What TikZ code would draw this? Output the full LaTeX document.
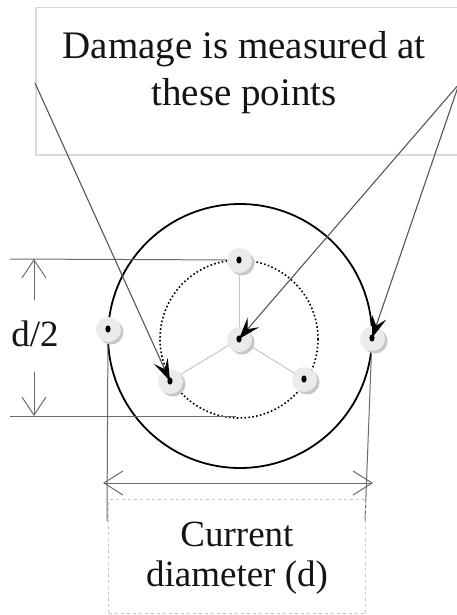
\documentclass[tikz,border=0pt]{standalone}
\usepackage{fontspec}
\setmainfont{Liberation Serif}
\usetikzlibrary{arrows.meta,calc}
\definecolor{dimgray}{gray}{0.42}
\definecolor{halo}{gray}{0.92}
\definecolor{haloshadow}{gray}{0.78}
\tikzset{
  dimline/.style={draw=dimgray, line width=1pt},
  dimtip/.style={-{Straight Barb[length=18pt,width=24pt]}},
  pointer/.style={draw=dimgray!80!black, line width=1.1pt, -{Stealth[length=22pt,width=15pt,inset=9pt,black]}},
  spoke/.style={draw=gray!45, line width=1pt},
  bigtext/.style={font=\fontsize{39}{47}\selectfont, align=center, inner sep=0pt, text=black!92},
  midtext/.style={font=\fontsize{37}{40}\selectfont, align=center, inner sep=0pt, text=black!92},
}
\begin{document}
\begin{tikzpicture}[x=1pt,y=-1pt]
\useasboundingbox (0,0) rectangle (457,615);
% top label box
\node[draw=gray!30, line width=1.5pt, inner sep=0pt, anchor=north west, minimum height=147pt, minimum width=435pt] (box) at (35,7) {};
\node[bigtext, anchor=north] (lab) at (244,31) {Damage is measured at\\these points};
% points
\coordinate (c) at (239,339);
\coordinate (pt) at (239,260);
\coordinate (pbl) at (170,381);
\coordinate (pbr) at (304,379);
\coordinate (pl) at (108,329);
\coordinate (pr) at (372,338);
\coordinate (srcL) at (35,83);
\coordinate (srcR) at (459,84);
% circles
\draw[black, line width=1.8pt] (240,336) circle (132);
\draw[black, line width=1.6pt, dash pattern=on 1.6pt off 2.3pt] (c) circle (79);
% spokes
\draw[spoke] (c) -- (pt);
\draw[spoke] (c) -- (pbl);
\draw[spoke] (c) -- (pbr);
% dimension d/2
\coordinate (dt) at (10,259);
\coordinate (db) at (10,416);
\coordinate (dbe) at (236,416);
\draw[dimline] (dt) -- (pt);
\draw[dimline] (db) -- (dbe);
\coordinate (aupS) at (34,300);
\coordinate (aupE) at (34,259);
\coordinate (adnS) at (34,372);
\coordinate (adnE) at (34,416);
\draw[dimline, dimtip] (aupS) -- (aupE);
\draw[dimline, dimtip] (adnS) -- (adnE);
\node[midtext] (half) at (35,334) {d/2};
% extension lines for d
\coordinate (el) at (107,521);
\coordinate (er) at (365,521);
\draw[dimline] (pl) -- (el);
\draw[dimline] (pr) -- (er);
\coordinate (dl) at (103,483);
\coordinate (dr) at (373,483);
\draw[dimline, {Straight Barb[length=19pt,width=24pt]}-{Straight Barb[length=19pt,width=24pt]}] (dl) -- (dr);
% measurement points
\foreach \p in {pt,pbl,pbr,c,pl,pr}{
  \fill[haloshadow] ($(\p)+(3,3)$) circle (12.5);
  \fill[halo] ($(\p)+(0.5,0.5)$) circle (12.5);
  \fill[black] (\p) ellipse (2.6 and 3.6);
}
% pointers
\draw[pointer] (srcL) -- (pbl);
\draw[pointer] (srcR) -- (c);
\draw[pointer] (srcR) -- (pr);
% bottom label box
\node[draw=gray!45, dashed, line width=1pt, anchor=north west, minimum width=257pt, minimum height=114pt, inner sep=0pt] (dbox) at (108,499) {};
\node[midtext, anchor=north] (dlab) at (237,522) {Current\\diameter (d)};
\end{tikzpicture}
\end{document}
